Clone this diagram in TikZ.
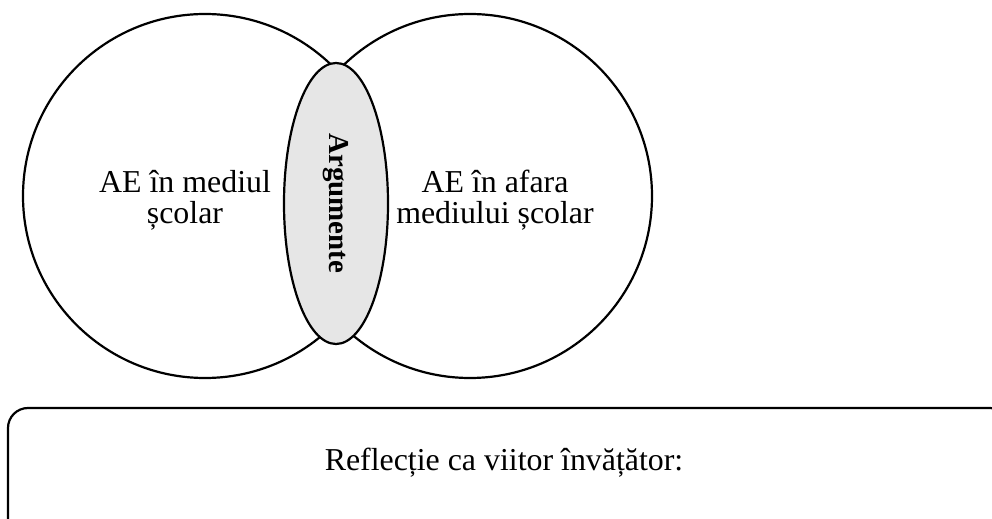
\documentclass[tikz,border=0pt]{standalone}
\usepackage{fontspec}
\setmainfont{Liberation Serif}
\usetikzlibrary{shapes.geometric}
\definecolor{argfill}{HTML}{E6E6E6}
\tikzset{
  ring/.style={draw=black, line width=2.2bp, circle, minimum size=364bp, inner sep=0pt},
  lens/.style={draw=black, line width=2.2bp, fill=argfill, ellipse, minimum width=281bp, minimum height=104bp, inner sep=0pt, rotate=-90, font=\bfseries\fontsize{29}{29}\selectfont},
  label/.style={align=center, inner sep=0pt, font=\fontsize{32}{31.5}\selectfont},
  panel/.style={draw=black, line width=2.2bp, rounded corners=20bp},
}
\begin{document}
\begin{tikzpicture}[x=1bp, y=-1bp]
\clip (0,0) rectangle (992,519);
\node[ring] (left) at (205,196) {};
\node[ring] (right) at (470,196) {};
\node[lens] (arg) at (336,203.5) {Argumente};
\node[label] (ltext) at (185,200) {AE în mediul\\școlar};
\node[label] (rtext) at (495,200) {AE în afara\\mediului școlar};
\draw[panel] (8,408) rectangle (1010,540);
\node[label, anchor=base] (refl) at (504,470) {Reflecție ca viitor învățător:};
\end{tikzpicture}
\end{document}
